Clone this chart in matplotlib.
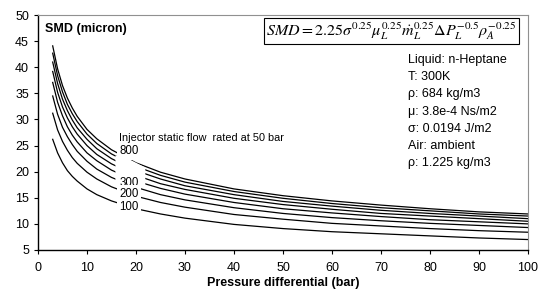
import matplotlib
matplotlib.use('Agg')
import matplotlib.pyplot as plt
from matplotlib.patches import Polygon

plt.rcParams['font.family'] = ['Liberation Sans', 'DejaVu Sans']
plt.rcParams['mathtext.fontset'] = 'stix'

# Pressure differential (bar)
dp = [3, 4, 5, 6, 7, 8, 10, 12, 15, 20, 25, 30, 40, 50, 60, 70, 80, 90, 100]

# SMD (micron) for each injector static flow rating
flow_labels = [100, 200, 300, 400, 500, 600, 700, 800]
smd_100 = [26.2, 23.6, 21.7, 20.2, 19.1, 18.2, 16.7, 15.6, 14.4, 12.9, 11.9, 11.1, 9.9, 9.1, 8.5, 8.1, 7.7, 7.3, 7.0]
smd_200 = [31.2, 28.0, 25.8, 24.1, 22.7, 21.6, 19.9, 18.6, 17.1, 15.3, 14.1, 13.2, 11.8, 10.9, 10.1, 9.6, 9.1, 8.7, 8.4]
smd_300 = [34.5, 31.0, 28.5, 26.7, 25.2, 23.9, 22.0, 20.5, 18.9, 17.0, 15.6, 14.6, 13.1, 12.0, 11.2, 10.6, 10.1, 9.7, 9.3]
smd_400 = [37.1, 33.3, 30.7, 28.6, 27.0, 25.7, 23.6, 22.1, 20.3, 18.2, 16.8, 15.7, 14.1, 12.9, 12.1, 11.4, 10.8, 10.4, 10.0]
smd_500 = [39.2, 35.2, 32.4, 30.3, 28.6, 27.2, 25.0, 23.3, 21.5, 19.3, 17.7, 16.6, 14.9, 13.7, 12.8, 12.0, 11.5, 11.0, 10.5]
smd_600 = [41.0, 36.9, 33.9, 31.7, 29.9, 28.4, 26.2, 24.4, 22.5, 20.2, 18.6, 17.3, 15.6, 14.3, 13.4, 12.6, 12.0, 11.5, 11.0]
smd_700 = [42.7, 38.4, 35.3, 32.9, 31.1, 29.6, 27.2, 25.4, 23.4, 21.0, 19.3, 18.0, 16.2, 14.9, 13.9, 13.1, 12.5, 11.9, 11.5]
smd_800 = [44.1, 39.7, 36.5, 34.1, 32.2, 30.6, 28.1, 26.3, 24.2, 21.7, 19.9, 18.6, 16.7, 15.4, 14.4, 13.6, 12.9, 12.3, 11.9]
curves = [smd_100, smd_200, smd_300, smd_400, smd_500, smd_600, smd_700, smd_800]

props = ['Liquid: n-Heptane', 'T: 300K', 'ρ: 684 kg/m3', 'μ: 3.8e-4 Ns/m2',
         'σ: 0.0194 J/m2', 'Air: ambient', 'ρ: 1.225 kg/m3']

fig = plt.figure(figsize=(5.39, 2.90), dpi=100)
ax = fig.add_axes([0.0705, 0.138, 0.909, 0.810])

for smd in curves:
    ax.plot(dp, smd, color='black', linewidth=0.9, zorder=2)

ax.set_xlim(0, 100)
ax.set_ylim(5, 50)
ax.set_xticks(range(0, 101, 10))
ax.set_yticks(range(5, 51, 5))
ax.tick_params(labelsize=9, direction='out', length=3, width=0.8)
ax.tick_params(axis='x', pad=6)
ax.spines['left'].set_linewidth(1.0)
ax.spines['bottom'].set_linewidth(1.0)
for s in ['top', 'right']:
    ax.spines[s].set_color('#909090')
    ax.spines[s].set_linewidth(0.8)
ax.set_xlabel('Pressure differential (bar)', fontsize=9, fontweight='bold', labelpad=2)

ax.text(0.015, 0.94, 'SMD (micron)', transform=ax.transAxes, fontsize=9,
        fontweight='bold', va='center', ha='left')

# blank the curves behind the flow labels
ax.add_patch(Polygon([(15.8, 23.1), (18.8, 22.3), (21.9, 20.8), (21.9, 17.2), (15.8, 17.2)],
                     closed=True, facecolor='white', edgecolor='none', zorder=3))
ax.text(16.6, 26.4, 'Injector static flow  rated at 50 bar', fontsize=7.8, va='center', zorder=4)
label_y = {800: 23.9, 300: 17.9, 200: 15.8, 100: 13.2}
for f in [800, 300, 200, 100]:
    ax.text(16.6, label_y[f], str(f), fontsize=8.3, va='center', ha='left', zorder=4,
            bbox=dict(facecolor='white', edgecolor='none', pad=2.0))

fig.text(391.5 / 539, 1 - 31 / 290,
         r'$SMD = 2.25\sigma^{0.25}\mu_L^{0.25}\dot{m}_L^{0.25}\Delta P_L^{-0.5}\rho_A^{-0.25}$',
         fontsize=11.5, ha='center', va='center',
         bbox=dict(facecolor='white', edgecolor='black', linewidth=0.8, pad=2))

for i, line in enumerate(props):
    fig.text(0.757, 1 - (60 + 17.2 * i) / 290, line, fontsize=9, va='center', ha='left')

fig.savefig('out.png', dpi=100)
